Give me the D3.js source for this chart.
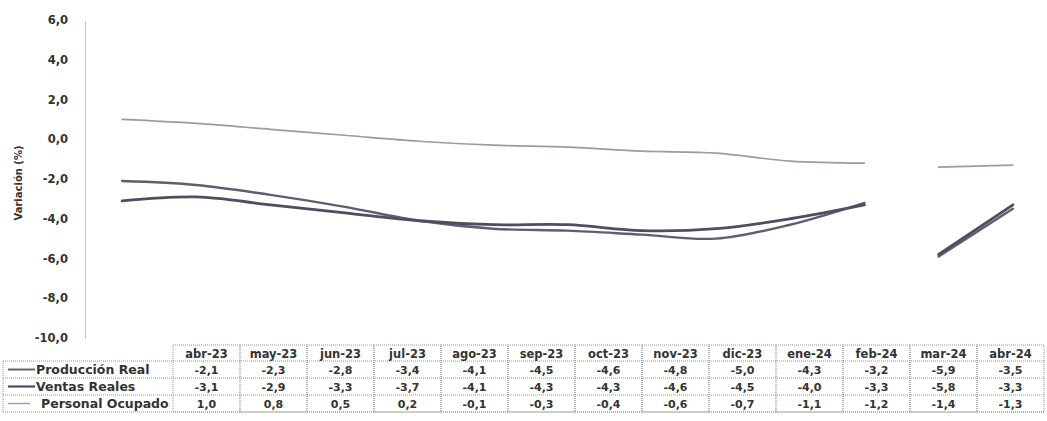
<!DOCTYPE html>
<html>
<head>
<meta charset="utf-8">
<script src="https://cdnjs.cloudflare.com/ajax/libs/d3/7.8.5/d3.min.js"></script>
<style>
  body { margin: 0; background: #fff; }
  svg text { font-family: "DejaVu Sans", Verdana, sans-serif; font-weight: bold; fill: #333; }
</style>
</head>
<body>
<svg id="chart" width="1047" height="421"></svg>
<script>
var months = ['abr-23', 'may-23', 'jun-23', 'jul-23', 'ago-23', 'sep-23', 'oct-23',
              'nov-23', 'dic-23', 'ene-24', 'feb-24', 'mar-24', 'abr-24'];
var produccion = [-2.1, -2.3, -2.8, -3.4, -4.1, -4.5, -4.6, -4.8, -5.0, -4.3, -3.2, -5.9, -3.5];
var ventas     = [-3.1, -2.9, -3.3, -3.7, -4.1, -4.3, -4.3, -4.6, -4.5, -4.0, -3.3, -5.8, -3.3];
var personal   = [1.0, 0.8, 0.5, 0.2, -0.1, -0.3, -0.4, -0.6, -0.7, -1.1, -1.2, -1.4, -1.3];
var seriesNames = ['Producción Real', 'Ventas Reales', 'Personal Ocupado'];
var yTicks = [6, 4, 2, 0, -2, -4, -6, -8, -10];
// the plotted line is broken between feb-24 and mar-24
var segmentStarts = [0, 11];

var series = [
    {name: seriesNames[0], values: produccion, color: '#5e5e70', width: 2.4},
    {name: seriesNames[1], values: ventas, color: '#4e4e62', width: 2.8},
    {name: seriesNames[2], values: personal, color: '#9a9aaa', width: 1.7}
];

var svg = d3.select('#chart');
var fmt = function(v) { return d3.format('.1f')(v).replace('.', ',').replace('−', '-'); };

var x = d3.scaleBand().domain(months).range([85, 1050]).paddingInner(0).paddingOuter(0);
var y = d3.scaleLinear().domain([-10, 6]).range([338, 20]);

// y axis: dotted line, labels only
var yAxis = d3.axisLeft(y).tickValues(yTicks).tickSize(0).tickPadding(17).tickFormat(fmt);
var gy = svg.append('g').attr('transform', 'translate(85,0)').call(yAxis);
gy.select('.domain').attr('stroke', '#888').attr('stroke-dasharray', '1,1');
gy.selectAll('text').style('font-size', '11.5px').attr('fill', '#333');

svg.append('text')
    .attr('transform', 'translate(22,183) rotate(-90)')
    .attr('text-anchor', 'middle')
    .style('font-size', '10px')
    .text('Variación (%)');

// lines
var line = d3.line()
    .x(function(d) { return x(d.m) + x.bandwidth() / 2; })
    .y(function(d) { return y(d.v); })
    .curve(d3.curveCatmullRom.alpha(0.5));

series.forEach(function(s) {
    var pts = months.map(function(m, i) { return {m: m, v: s.values[i], i: i}; });
    segmentStarts.forEach(function(start, k) {
        var end = k + 1 < segmentStarts.length ? segmentStarts[k + 1] : months.length;
        svg.append('path')
            .datum(pts.slice(start, end))
            .attr('d', line)
            .attr('fill', 'none')
            .attr('stroke', s.color)
            .attr('stroke-width', s.width)
            .attr('stroke-linecap', 'round');
    });
});

// data table
var tx = d3.scaleBand().domain(months).range([173, 1044]);
var rowTop = [345, 361, 378, 395];
var rowBottom = 412;
var grid = svg.append('g').attr('stroke', '#999').attr('stroke-dasharray', '1,1').attr('fill', 'none');

// header cells
months.forEach(function(m) {
    grid.append('rect').attr('x', tx(m)).attr('y', rowTop[0])
        .attr('width', tx.bandwidth()).attr('height', rowBottom - rowTop[0]);
    svg.append('text')
        .attr('x', tx(m) + tx.bandwidth() / 2).attr('y', rowTop[0] + 12.5)
        .attr('text-anchor', 'middle').style('font-size', '11.5px')
        .text(m);
});
// row lines
[1, 2, 3].forEach(function(r) {
    grid.append('line').attr('x1', 3).attr('x2', 1044)
        .attr('y1', rowTop[r]).attr('y2', rowTop[r]);
});
grid.append('line').attr('x1', 3).attr('x2', 1044).attr('y1', rowBottom).attr('y2', rowBottom);
grid.append('line').attr('x1', 3).attr('x2', 3).attr('y1', rowTop[1]).attr('y2', rowBottom);

series.forEach(function(s, r) {
    var cy = (rowTop[r + 1] + (r + 2 < rowTop.length ? rowTop[r + 2] : rowBottom)) / 2;
    var sw = r === 2 ? [8, 30] : [8, 35];
    svg.append('line').attr('x1', sw[0]).attr('x2', sw[1]).attr('y1', cy).attr('y2', cy)
        .attr('stroke', s.color).attr('stroke-width', s.width * 0.8);
    svg.append('text')
        .attr('x', r === 2 ? 41 : 36).attr('y', cy + 4.5)
        .style('font-size', '12.5px')
        .text(s.name);
    s.values.forEach(function(v, i) {
        svg.append('text')
            .attr('x', tx(months[i]) + tx.bandwidth() / 2).attr('y', cy + 4)
            .attr('text-anchor', 'middle').style('font-size', '11px')
            .text(fmt(v));
    });
});
</script>
</body>
</html>
